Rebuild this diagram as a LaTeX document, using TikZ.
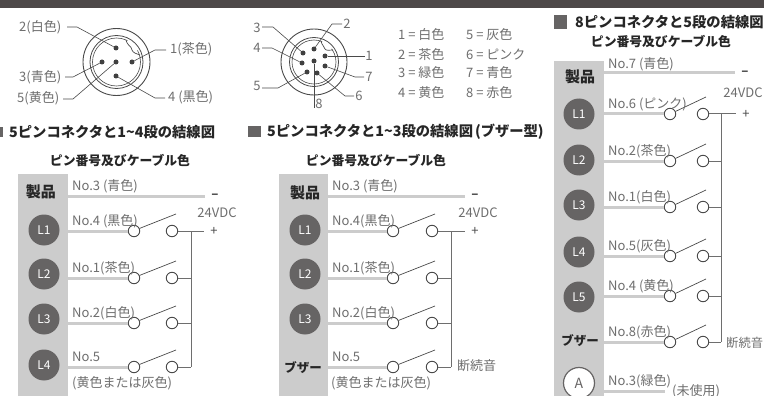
\documentclass[tikz,border=0pt]{standalone}
\usepackage{fontspec}
\setmainfont{Noto Sans CJK JP}
\definecolor{barcol}{HTML}{4D4848}
\definecolor{panelcol}{HTML}{CCCCCC}
\definecolor{lampcol}{HTML}{666464}
\definecolor{txtcol}{HTML}{6E6E6E}
\definecolor{inkcol}{HTML}{4A4A4A}
\tikzset{
  wire/.style={panelcol, line width=3pt},
  blade/.style={inkcol, line width=0.7pt},
  bus/.style={inkcol!80, line width=1pt},
  leader/.style={inkcol, line width=0.6pt},
  conn/.style={circle, draw=inkcol, fill=white, line width=0.9pt, minimum size=11.5pt, inner sep=0pt},
  pindot/.style={circle, fill=black!75, minimum size=5pt, inner sep=0pt},
  lamp/.style={circle, fill=lampcol, text=white, minimum size=31pt, inner sep=0pt, font=\fontsize{12}{14}\selectfont},
  pinlabel/.style={text=txtcol, inner sep=0pt, font=\fontsize{13}{15}\selectfont},
  wirelabel/.style={pinlabel, anchor=west},
  sign/.style={text=inkcol, inner sep=6pt, font=\fontsize{13}{15}\selectfont},
  head/.style={text=black!85, inner sep=0pt, font=\fontsize{12.8}{14}\selectfont\bfseries},
  title/.style={text=black!85, inner sep=0pt, anchor=west, font=\fontsize{14.3}{16}\selectfont\bfseries},
  maker/.style={text=black!85, inner sep=0pt, font=\fontsize{15}{17}\selectfont\bfseries},
}
% one row of a panel: name, y, text
\newcommand{\swrow}[3]{
  \coordinate (#1s) at (\xp,#2);
  \coordinate (#1j) at (\xv,#2);
  \node[conn] (#1a) at (\xa,#2) {};
  \node[conn] (#1b) at (\xb,#2) {};
  \coordinate (#1t) at (\xc,#2-17);
  \draw[wire] (#1s) -- (#1a);
  \draw[blade] (#1a.25) -- (#1t);
  \draw[bus] (#1b) -- (#1j);
  \node[wirelabel] (#1l) at (\xp+4,#2-10) {#3};
}
\begin{document}
\begin{tikzpicture}[x=1pt,y=-1pt]
  \clip (0,0) rectangle (764,396);
  \fill[white] (0,0) rectangle (764,396);
  \fill[barcol] (0,0) rectangle (764,8);

  % 5 pin connector
  \draw[inkcol, line width=0.9pt] (116.5,62) circle (33.5);
  \draw[inkcol, line width=0.6pt] (116.5,62) circle (24);
  \fill[white] (133,45) circle (7);
  \draw[inkcol, line width=0.8pt] (116.5,62) circle (26.5);
  \draw[inkcol, line width=0.7pt] (126,40) .. controls (128,47) and (131,45) .. (132,50) .. controls (133,53) and (137,54) .. (140,55);
  \node[pindot] (cap1) at (132,62) {};
  \node[pindot] (cap2) at (116,48) {};
  \node[pindot] (cap3) at (102,62) {};
  \node[pindot] (cap4) at (116,76) {};
  \node[pindot] (cap5) at (116,62) {};
  \node[pinlabel, anchor=west] (lab1) at (170,49.5) {1(茶色)};
  \node[pinlabel, anchor=west] (lab2) at (19,27.5) {2(白色)};
  \node[pinlabel, anchor=west] (lab3) at (19,77) {3(青色)};
  \node[pinlabel, anchor=west] (lab4) at (168,97.5) {4 (黒色)};
  \node[pinlabel, anchor=west] (lab5) at (17,98) {5(黄色)};
  \coordinate (el1a) at (166,50); \coordinate (el1b) at (155,50);
  \coordinate (el2a) at (67,27); \coordinate (el2b) at (77,27);
  \coordinate (el3a) at (65,77); \coordinate (el3b) at (73,77);
  \coordinate (el4a) at (165,98); \coordinate (el4b) at (155,98);
  \coordinate (el5a) at (63,99); \coordinate (el5b) at (73,99);
  \draw[leader] (el1a) -- (el1b) -- (cap1);
  \draw[leader] (el2a) -- (el2b) -- (cap2);
  \draw[leader] (el3a) -- (el3b) -- (cap3);
  \draw[leader] (el4a) -- (el4b) -- (cap4);
  \draw[leader] (el5a) -- (el5b) -- (cap5);

  % 8 pin connector
  \draw[inkcol, line width=0.9pt] (314,62) circle (33);
  \draw[inkcol, line width=0.6pt] (314,62) circle (22);
  \fill[white] (327,45) circle (6);
  \draw[inkcol, line width=0.8pt] (314,62) circle (24.5);
  \draw[inkcol, line width=0.7pt] (321,41) .. controls (322,46) and (324,45) .. (325,49) .. controls (326,51) and (330,50) .. (333,50);
  \node[pindot] (eig1) at (325,56) {};
  \node[pindot] (eig2) at (314,49) {};
  \node[pindot] (eig3) at (303,53) {};
  \node[pindot] (eig4) at (302,63) {};
  \node[pindot] (eig5) at (307,72) {};
  \node[pindot] (eig6) at (317,73) {};
  \node[pindot] (eig7) at (325,66) {};
  \node[pindot] (eig8) at (314,61) {};
  \node[pinlabel] (num1) at (369,55.5) {1};
  \node[pinlabel] (num2) at (347,24) {2};
  \node[pinlabel] (num3) at (257,27.5) {3};
  \node[pinlabel] (num4) at (257,48) {4};
  \node[pinlabel] (num5) at (257,86) {5};
  \node[pinlabel] (num6) at (359,96) {6};
  \node[pinlabel] (num7) at (369,77) {7};
  \node[pinlabel] (num8) at (319,104) {8};
  \coordinate (nd2a) at (342,24); \coordinate (nd2b) at (332,24);
  \coordinate (nd3a) at (262,27); \coordinate (nd3b) at (273,27);
  \coordinate (nd4a) at (262,48); \coordinate (nd4b) at (272,48);
  \coordinate (nd5a) at (262,88); \coordinate (nd5b) at (278,88);
  \coordinate (nd6a) at (354,96); \coordinate (nd6b) at (345,96);
  \coordinate (nd7a) at (364,77); \coordinate (nd7b) at (355,77);
  \coordinate (nd1a) at (365,56);
  \coordinate (nd8a) at (314,108);
  \draw[leader] (nd1a) -- (eig1);
  \draw[leader] (nd2a) -- (nd2b) -- (eig2);
  \draw[leader] (nd3a) -- (nd3b) -- (eig3);
  \draw[leader] (nd4a) -- (nd4b) -- (eig4);
  \draw[leader] (nd5a) -- (nd5b) -- (eig5);
  \draw[leader] (nd6a) -- (nd6b) -- (eig6);
  \draw[leader] (nd7a) -- (nd7b) -- (eig7);
  \draw[leader] (nd8a) -- (eig8);

  % colour table
  \node[wirelabel] (tb1) at (398,35) {1 = 白色};
  \node[wirelabel] (tb2) at (398,54.5) {2 = 茶色};
  \node[wirelabel] (tb3) at (398,73) {3 = 緑色};
  \node[wirelabel] (tb4) at (398,93) {4 = 黄色};
  \node[wirelabel] (tb5) at (466,35) {5 = 灰色};
  \node[wirelabel] (tb6) at (466,54.5) {6 = ピンク};
  \node[wirelabel] (tb7) at (466,73) {7 = 青色};
  \node[wirelabel] (tb8) at (466,93) {8 = 赤色};

  % headings
  \fill[lampcol] (0,127) rectangle (3,137);
  \node[title] (titlea) at (9,132) {5ピンコネクタと1\textasciitilde 4段の結線図};
  \fill[lampcol] (248,126) rectangle (261,137);
  \node[title] (titleb) at (267,132) {5ピンコネクタと1\textasciitilde 3段の結線図\kern2pt(ブザー型)};
  \fill[lampcol] (554,15) rectangle (567,29);
  \node[title] (titlec) at (575,22) {8ピンコネクタと5段の結線図};
  \node[head] (suba) at (120,161) {ピン番号及びケーブル色};
  \node[head] (subb) at (376,161) {ピン番号及びケーブル色};
  \node[head] (subc) at (661,42) {ピン番号及びケーブル色};

  % panel with 4 lamps
  \fill[panelcol] (18,174) rectangle (68,396);
  \def\xp{68}\def\xa{134}\def\xb{172}\def\xc{176}\def\xv{191}
  \node[maker] (makera) at (41,192) {製品};
  \node[wirelabel] (patopl) at (72,186) {No.3 (青色)};
  \coordinate (patop) at (68,196);
  \node[sign] (paminus) at (215,196) {\textbf{–}};
  \draw[wire] (patop) -- (paminus);
  \node[pinlabel] (pavolt) at (217,213) {24VDC};
  \swrow{pa1}{231}{No.4 (黒色)}
  \swrow{pa2}{278}{No.1(茶色)}
  \swrow{pa3}{323}{No.2(白色)}
  \swrow{pa4}{367}{No.5}
  \node[lamp] (pal1) at (44,230) {L1};
  \node[lamp] (pal2) at (44,274) {L2};
  \node[lamp] (pal3) at (44,319) {L3};
  \node[lamp] (pal4) at (44,365) {L4};
  \node[wirelabel] (panote) at (72,383) {(黄色または灰色)};
  \node[sign] (paplus) at (214,231) {+};
  \draw[bus] (pa1j) -- (paplus);
  \draw[bus] (pa1j) -- (pa4j);

  % panel with 3 lamps and buzzer
  \fill[panelcol] (279,174) rectangle (328,396);
  \def\xp{328}\def\xa{393}\def\xb{432}\def\xc{435}\def\xv{451}
  \node[maker] (makerb) at (305,193) {製品};
  \node[wirelabel] (pbtopl) at (332,186) {No.3 (青色)};
  \coordinate (pbtop) at (328,196);
  \node[sign] (pbminus) at (475,196) {\textbf{–}};
  \draw[wire] (pbtop) -- (pbminus);
  \node[pinlabel] (pbvolt) at (478,213) {24VDC};
  \swrow{pb1}{231}{No.4(黒色)}
  \swrow{pb2}{278}{No.1(茶色)}
  \swrow{pb3}{323}{No.2(白色)}
  \swrow{pb4}{367}{No.5}
  \node[lamp] (pbl1) at (305,230) {L1};
  \node[lamp] (pbl2) at (305,274) {L2};
  \node[lamp] (pbl3) at (305,319) {L3};
  \node[maker, font=\fontsize{12.5}{14}\selectfont\bfseries] (pbbuz) at (303,368) {ブザー};
  \node[wirelabel] (pbnote) at (331,383) {(黄色または灰色)};
  \node[sign] (pbplus) at (475,231) {+};
  \draw[bus] (pb1j) -- (pbplus);
  \draw[bus] (pb1j) -- (pb4j);
  \node[wirelabel] (pbint) at (457,366) {断続音};

  % panel with 5 lamps
  \fill[panelcol] (554,61) rectangle (604,396);
  \def\xp{604}\def\xa{670}\def\xb{703}\def\xc{706}\def\xv{721}
  \node[maker] (makerc) at (580,77) {製品};
  \node[wirelabel] (pctopl) at (608,64) {No.7 (青色)};
  \coordinate (pctop) at (604,73);
  \node[sign] (pcminus) at (745,73) {\textbf{–}};
  \draw[wire] (pctop) -- (pcminus);
  \node[pinlabel] (pcvolt) at (743,93) {24VDC};
  \swrow{pc1}{114}{No.6 (ピンク)}
  \swrow{pc2}{161}{No.2(茶色)}
  \swrow{pc3}{207}{No.1(白色)}
  \swrow{pc4}{256}{No.5(灰色)}
  \swrow{pc5}{296}{No.4 (黄色)}
  \swrow{pc6}{342}{No.8(赤色)}
  \node[lamp] (pcl1) at (579,114) {L1};
  \node[lamp] (pcl2) at (579,160) {L2};
  \node[lamp] (pcl3) at (579,205) {L3};
  \node[lamp] (pcl4) at (579,252) {L4};
  \node[lamp] (pcl5) at (579,297) {L5};
  \node[maker, font=\fontsize{12.5}{14}\selectfont\bfseries] (pcbuz) at (580,341) {ブザー};
  \node[lamp, fill=white, draw=lampcol, line width=1.2pt, text=lampcol, font=\fontsize{14}{16}\selectfont] (pca) at (579,383) {A};
  \node[sign] (pcplus) at (746,114) {+};
  \draw[bus] (pc1j) -- (pcplus);
  \draw[bus] (pc1j) -- (pc6j);
  \node[wirelabel, font=\fontsize{12.3}{15}\selectfont] (pcint) at (726,343) {断続音};
  \coordinate (pcnas) at (604,391);
  \coordinate (pcnae) at (665,391);
  \draw[wire] (pcnas) -- (pcnae);
  \node[wirelabel] (pcnal) at (608,381) {No.3(緑色)};
  \node[wirelabel] (pcnan) at (672,391) {(未使用)};
\end{tikzpicture}
\end{document}
